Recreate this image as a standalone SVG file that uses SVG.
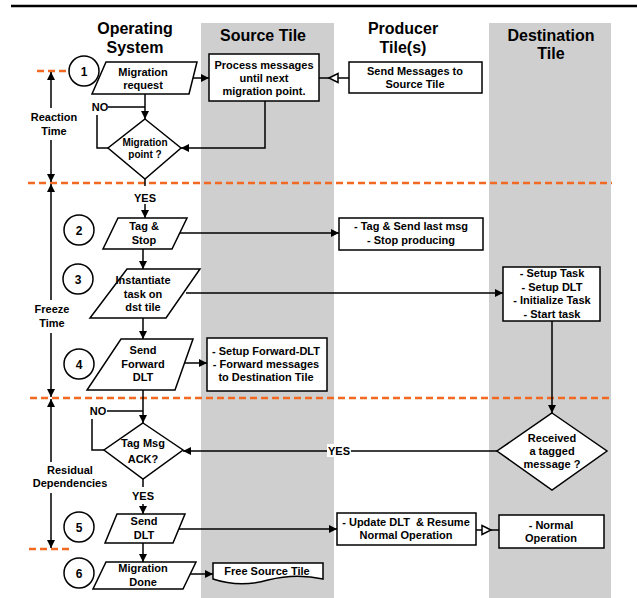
<svg xmlns="http://www.w3.org/2000/svg" width="637" height="598" viewBox="0 0 637 598">
<style>
text{font-family:"Liberation Sans",Arial,sans-serif;font-weight:bold;fill:#000;text-anchor:middle}
.h{font-size:16px}
.t{font-size:11px}
.s{font-size:10px}
.n{font-size:12px}
.box{fill:#fff;stroke:#000;stroke-width:1.5}
.c{fill:none;stroke:#000;stroke-width:1.5}
.ar{marker-end:url(#a)}
.dash{stroke:#F26A21;stroke-width:2.5;stroke-dasharray:7,4;fill:none}
.lane{fill:#CFCFCF}
</style>
<defs>
<marker id="a" viewBox="0 0 10 10" refX="10" refY="5" markerWidth="8" markerHeight="8" markerUnits="userSpaceOnUse" orient="auto-start-reverse">
<path d="M0,0 L10,5 L0,10 z" fill="#000"/>
</marker>
</defs>
<rect width="637" height="598" fill="#fff"/>
<line x1="11" y1="6" x2="637" y2="6" stroke="#000" stroke-width="2.5"/>
<g id="lanes">
<rect class="lane" x="201" y="23" width="133" height="575"/>
<rect class="lane" x="489" y="23" width="122" height="575"/>
<text class="h" x="135" y="34">Operating</text>
<text class="h" x="135" y="53">System</text>
<text class="h" x="263" y="41">Source Tile</text>
<text class="h" x="403" y="34">Producer</text>
<text class="h" x="403" y="53">Tile(s)</text>
<text class="h" x="551" y="41">Destination</text>
<text class="h" x="551" y="59">Tile</text>
</g>
<g id="phases">
<line class="dash" x1="37" y1="71" x2="69" y2="71"/>
<line class="dash" x1="28" y1="183" x2="612" y2="183"/>
<line class="dash" x1="30" y1="398" x2="612" y2="398"/>
<line class="dash" x1="29" y1="549" x2="70" y2="549"/>
<path class="c" d="M51,72 V108 M51,140 V182" marker-start="url(#a)" marker-end="url(#a)"/>
<text class="t" x="54" y="121">Reaction</text>
<text class="t" x="54" y="135">Time</text>
<path class="c" d="M51,184 V300 M51,333 V397" marker-start="url(#a)" marker-end="url(#a)"/>
<text class="t" x="52" y="313">Freeze</text>
<text class="t" x="52" y="327">Time</text>
<path class="c" d="M51,399 V462 M51,493 V548" marker-start="url(#a)" marker-end="url(#a)"/>
<text class="t" x="70" y="474">Residual</text>
<text class="t" x="70" y="487">Dependencies</text>
</g>
<g id="steps">
<circle class="box" cx="84" cy="71" r="15"/><text class="n" x="84" y="75.5">1</text>
<circle class="box" cx="79" cy="230" r="15"/><text class="n" x="79" y="234.5">2</text>
<circle class="box" cx="78" cy="279" r="15"/><text class="n" x="78" y="283.5">3</text>
<circle class="box" cx="79" cy="364" r="15"/><text class="n" x="79" y="368.5">4</text>
<circle class="box" cx="79" cy="527" r="15"/><text class="n" x="79" y="531.5">5</text>
<circle class="box" cx="79" cy="573" r="15"/><text class="n" x="79" y="577.5">6</text>
</g>
<g id="connectors">
<line class="c ar" x1="193" y1="78" x2="209" y2="78"/>
<line class="c" x1="319" y1="78" x2="349" y2="78"/>
<polygon points="329,78 338,73.5 338,82.5" fill="#fff" stroke="#000" stroke-width="1.5"/>
<line class="c ar" x1="145" y1="94" x2="145" y2="119"/>
<path class="c" d="M108,148 H97 V115 M108,107 H145"/>
<path class="c ar" d="M265,101 V148 H181"/>
<path class="c" d="M145,179 V186"/>
<line class="c ar" x1="145" y1="204" x2="145" y2="218"/>
<line class="c ar" x1="180" y1="233" x2="339" y2="233"/>
<line class="c ar" x1="143" y1="249" x2="143" y2="269"/>
<line class="c ar" x1="186" y1="293" x2="503" y2="293"/>
<line class="c ar" x1="143" y1="318" x2="143" y2="339"/>
<line class="c ar" x1="185" y1="363" x2="207" y2="363"/>
<line class="c ar" x1="552" y1="321" x2="552" y2="413"/>
<line class="c ar" x1="143" y1="390" x2="143" y2="423"/>
<path class="c" d="M104,450 H92 V419 M107,411 H143"/>
<line class="c ar" x1="497" y1="451" x2="183" y2="451"/>
<rect x="327" y="444" width="24" height="13" fill="#fff"/>
<text class="t" x="339" y="455">YES</text>
<path class="c" d="M143,479 V487"/>
<line class="c ar" x1="143" y1="504" x2="143" y2="514"/>
<line class="c ar" x1="179" y1="529" x2="337" y2="529"/>
<line class="c" x1="476" y1="530" x2="499" y2="530"/>
<polygon points="491,530 482,525.5 482,534.5" fill="#fff" stroke="#000" stroke-width="1.5"/>
<line class="c ar" x1="143" y1="543" x2="143" y2="562"/>
<line class="c ar" x1="189" y1="574" x2="213" y2="574"/>
<text class="t" x="100" y="111">NO</text>
<text class="t" x="98" y="415">NO</text>
<text class="t" x="145" y="202">YES</text>
<text class="t" x="143" y="500">YES</text>
</g>
<g id="migration-request">
<polygon class="box" points="106,62 197,62 189,94 92,94"/>
<text class="t" x="143" y="76">Migration</text>
<text class="t" x="143" y="89">request</text>
</g>
<g id="process-messages">
<rect class="box" x="209" y="54" width="110" height="47"/>
<text class="t" x="264" y="69">Process messages</text>
<text class="t" x="264" y="82">until next</text>
<text class="t" x="264" y="95">migration point.</text>
</g>
<g id="send-messages">
<rect class="box" x="349" y="62" width="133" height="31"/>
<text class="t" x="415" y="75">Send Messages to</text>
<text class="t" x="415" y="88">Source Tile</text>
</g>
<g id="migration-point">
<polygon class="box" points="145,119 181,148 145,179 108,148"/>
<text class="s" x="145" y="146">Migration</text>
<text class="s" x="145" y="158">point ?</text>
</g>
<g id="tag-stop">
<polygon class="box" points="118,218 187,218 172,249 103,249"/>
<text class="t" x="144" y="230">Tag &amp;</text>
<text class="t" x="144" y="244">Stop</text>
</g>
<g id="tag-send">
<rect class="box" x="339" y="218" width="144" height="32"/>
<text class="t" x="411" y="230">- Tag &amp; Send last msg</text>
<text class="t" x="411" y="244">- Stop producing</text>
</g>
<g id="instantiate">
<polygon class="box" points="127,269 200,269 166,318 90,318"/>
<text class="t" x="143" y="284">Instantiate</text>
<text class="t" x="143" y="297.5">task on</text>
<text class="t" x="143" y="311">dst tile</text>
</g>
<g id="setup-task">
<rect class="box" x="503" y="267" width="97" height="54"/>
<text class="t" x="552" y="277">- Setup Task</text>
<text class="t" x="552" y="291">- Setup DLT</text>
<text class="t" x="552" y="304">- Initialize Task</text>
<text class="t" x="552" y="318">- Start task</text>
</g>
<g id="send-forward">
<polygon class="box" points="121,339 193,339 175,390 87,390"/>
<text class="t" x="143" y="354">Send</text>
<text class="t" x="143" y="368">Forward</text>
<text class="t" x="143" y="381">DLT</text>
</g>
<g id="forward-dlt">
<rect class="box" x="207" y="338" width="120" height="53"/>
<text class="t" x="266" y="355">- Setup Forward-DLT</text>
<text class="t" x="266" y="368">- Forward messages</text>
<text class="t" x="266" y="381">to Destination Tile</text>
</g>
<g id="tag-msg-ack">
<polygon class="box" points="143,423 183,450 143,479 104,450"/>
<text class="t" x="143" y="447">Tag Msg</text>
<text class="t" x="143" y="463">ACK?</text>
</g>
<g id="received">
<polygon class="box" points="552,413 607,451 552,490 497,451"/>
<text class="t" x="552" y="442">Received</text>
<text class="t" x="552" y="455">a tagged</text>
<text class="t" x="552" y="468">message ?</text>
</g>
<g id="send-dlt">
<polygon class="box" points="117,514 185,514 173,543 105,543"/>
<text class="t" x="144" y="525">Send</text>
<text class="t" x="144" y="539">DLT</text>
</g>
<g id="update-dlt">
<rect class="box" x="337" y="513" width="139" height="32"/>
<text class="t" x="406" y="526" xml:space="preserve">- Update DLT  &amp; Resume</text>
<text class="t" x="406" y="539">Normal Operation</text>
</g>
<g id="normal-operation">
<rect class="box" x="499" y="515" width="105" height="33"/>
<text class="t" x="551" y="529">- Normal</text>
<text class="t" x="551" y="542">Operation</text>
</g>
<g id="migration-done">
<polygon class="box" points="106,562 196,562 183,589 93,589"/>
<text class="t" x="143" y="572">Migration</text>
<text class="t" x="143" y="586">Done</text>
</g>
<g id="free-source-tile">
<path class="box" d="M213,563 H323 V579 Q296,573 268,580 Q240,588 213,579 Z"/>
<text class="t" x="267" y="575">Free Source Tile</text>
</g>
</svg>
